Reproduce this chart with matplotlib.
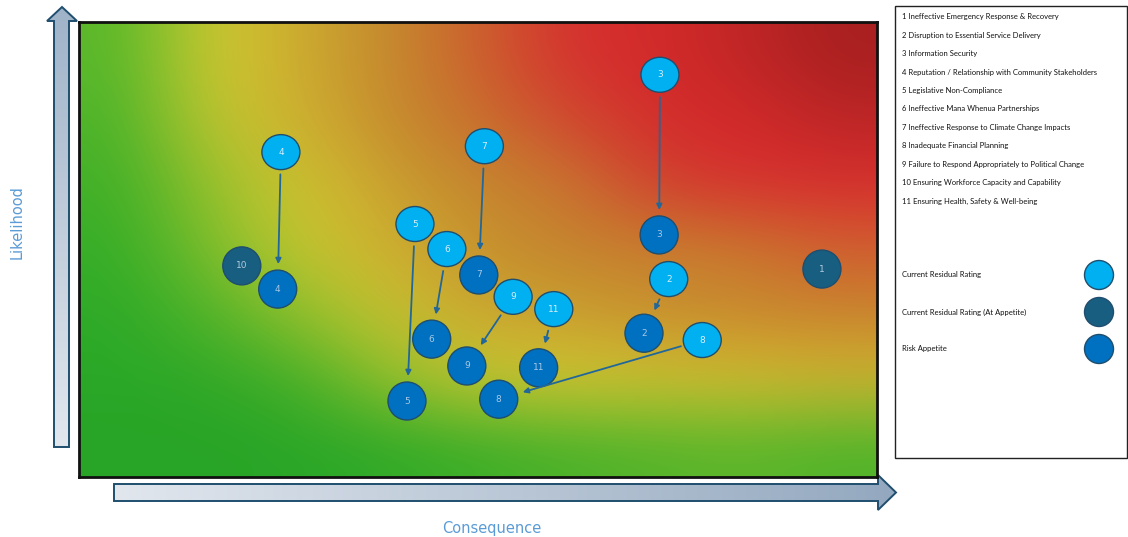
import numpy as np
import matplotlib
matplotlib.use("Agg")
import matplotlib.pyplot as plt
from matplotlib.patches import Ellipse, Circle, Polygon, Rectangle
from matplotlib.colors import to_rgb

# risk register: label, current residual rating (x, y), risk appetite (x, y)
# x = consequence, y = likelihood, both on a 0-10 scale
risk_ids = [2, 3, 4, 5, 6, 7, 8, 9, 11]
current_x = [7.39, 7.28, 2.53, 4.21, 4.61, 5.08, 7.81, 5.44, 5.95]
current_y = [4.35, 8.84, 7.14, 5.56, 5.01, 7.27, 3.01, 3.96, 3.69]
appetite_x = [7.08, 7.27, 2.49, 4.11, 4.42, 5.01, 5.26, 4.86, 5.76]
appetite_y = [3.16, 5.32, 4.13, 1.67, 3.03, 4.44, 1.71, 2.44, 2.40]

# risks already sitting at appetite
at_appetite_ids = [1, 10]
at_appetite_x = [9.31, 2.04]
at_appetite_y = [4.57, 4.64]

risk_names = [
    "1 Ineffective Emergency Response & Recovery",
    "2 Disruption to Essential Service Delivery",
    "3 Information Security",
    "4 Reputation / Relationship with Community Stakeholders",
    "5 Legislative Non-Compliance",
    "6 Ineffective Mana Whenua Partnerships",
    "7 Ineffective Response to Climate Change Impacts",
    "8 Inadequate Financial Planning",
    "9 Failure to Respond Appropriately to Political Change",
    "10 Ensuring Workforce Capacity and Capability",
    "11 Ensuring Health, Safety & Well-being",
]
key_labels = ["Current Residual Rating", "Current Residual Rating (At Appetite)", "Risk Appetite"]

# background heat colours, rows top -> bottom, columns left -> right
heat_rows = [
    ['#58b82a', '#d2cc30', '#ccaa30', '#c48a2e', '#cc602e', '#d63030', '#d42a2a', '#c02626', '#a81f20'],
    ['#4cb42a', '#c4c830', '#cfb030', '#c68c2e', '#c8702e', '#d04830', '#d42c2c', '#d42a2a', '#bc2626'],
    ['#40b028', '#98c22c', '#d2c430', '#c8a030', '#c4862e', '#c87830', '#d04030', '#d83030', '#d82e2e'],
    ['#36ae28', '#7cbe2c', '#c8c830', '#d0b030', '#c8922e', '#c4842e', '#c8802e', '#c87a2e', '#d06030'],
    ['#2eaa28', '#50b42a', '#90c02c', '#c8c430', '#cca830', '#c8a030', '#c8902e', '#c8882e', '#c8842e'],
    ['#2aa828', '#30a828', '#44b028', '#90c02c', '#c8c830', '#d4c830', '#d0c430', '#d4c030', '#d0b830'],
    ['#28a426', '#28a426', '#2aa628', '#30aa28', '#3cae28', '#4ab22a', '#54b42a', '#5cb62a', '#50b42a'],
]

LIGHT = '#00b0f0'
TEAL = '#175e80'
BLUE = '#0070c0'
EDGE = '#1f4e6e'
ARROW = '#22679a'
AXIS_TXT = '#5b9bd5'

W, H = 1128, 537
fig = plt.figure(figsize=(W / 100, H / 100), dpi=100)

# full-figure layer in pixel units for the axis arrows, titles and key
deco = fig.add_axes([0, 0, 1, 1])
deco.set_xlim(0, W)
deco.set_ylim(H, 0)
deco.axis('off')


def gradient_arrow(points, c0, c1, vertical):
    poly = Polygon(points, closed=True, facecolor='none', edgecolor=EDGE, lw=1.4, zorder=3)
    deco.add_patch(poly)
    xs = [p[0] for p in points]
    ys = [p[1] for p in points]
    t = np.linspace(0, 1, 256)
    cols = np.outer(1 - t, to_rgb(c0)) + np.outer(t, to_rgb(c1))
    if vertical:
        img = cols[:, None, :]
    else:
        img = cols[None, :, :]
    im = deco.imshow(img, extent=(min(xs), max(xs), max(ys), min(ys)), origin='upper',
                     aspect='auto', zorder=2)
    im.set_clip_path(poly)


# likelihood arrow (up), consequence arrow (right)
gradient_arrow([(54, 447), (54, 21), (47, 21), (62, 7), (77, 21), (69, 21), (69, 447)],
               '#9fb3c8', '#e2e7ee', True)
gradient_arrow([(114, 484), (878, 484), (878, 475), (896, 492.5), (878, 510), (878, 501), (114, 501)],
               '#e2e7ee', '#93a8bf', False)
deco.set_xlim(0, W)
deco.set_ylim(H, 0)

deco.text(17, 222, "Likelihood", rotation=90, ha='center', va='center',
          color=AXIS_TXT, fontsize=10.5)
deco.text(492, 529, "Consequence", ha='center', va='center', color=AXIS_TXT, fontsize=10.5)

# key box
deco.add_patch(Rectangle((895, 6), 232, 452, facecolor='white', edgecolor='#222222', lw=1))
for i, name in enumerate(risk_names):
    deco.text(902, 17 + i * 18.4, name, ha='left', va='center', fontsize=5.5,
              family='Lato', color='#111111')
for lab, col, yy in zip(key_labels, [LIGHT, TEAL, BLUE], [275, 312, 349]):
    deco.text(902, yy, lab, ha='left', va='center', fontsize=5.5, family='Lato', color='#111111')
    deco.add_patch(Circle((1099, yy), 14.5, facecolor=col, edgecolor=EDGE, lw=1))

# heat map
ax = fig.add_axes([79 / W, (H - 477) / H, 798 / W, 455 / H])
grid = np.array([[to_rgb(c) for c in row] for row in heat_rows])
ax.imshow(grid, extent=(0, 10, 0, 10), origin='upper', aspect='auto', interpolation='bicubic')
ax.set_xlim(0, 10)
ax.set_ylim(0, 10)
ax.set_xticks([])
ax.set_yticks([])
for s in ax.spines.values():
    s.set_color('#111111')
    s.set_linewidth(2)

cw = 38 / 79.8
ch_light = 35 / 45.5
ch_dark = 38 / 45.5


def bubble(x, y, label, face, h, txt):
    ax.add_patch(Ellipse((x, y), cw, h, facecolor=face, edgecolor=EDGE, lw=1, zorder=3))
    ax.text(x, y, str(label), ha='center', va='center', fontsize=6.5, color=txt, zorder=4)


for rid, x0, y0, x1, y1 in zip(risk_ids, current_x, current_y, appetite_x, appetite_y):
    ax.annotate('', xy=(x1, y1), xytext=(x0, y0),
                arrowprops=dict(arrowstyle='-|>', color=ARROW, lw=1.3, mutation_scale=8,
                                shrinkA=16, shrinkB=18), zorder=5)
    bubble(x1, y1, rid, BLUE, ch_dark, '#a9c8e6')
    bubble(x0, y0, rid, LIGHT, ch_light, '#d8eefa')

for rid, x, y in zip(at_appetite_ids, at_appetite_x, at_appetite_y):
    bubble(x, y, rid, TEAL, ch_dark, '#b5ccdc')

fig.savefig('out.png', dpi=100)
